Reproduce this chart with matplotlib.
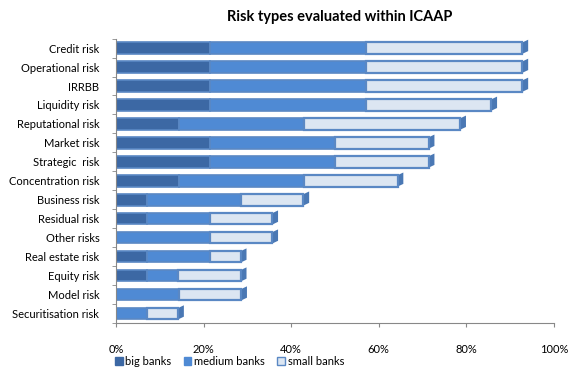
import matplotlib
matplotlib.use("Agg")
import matplotlib.pyplot as plt
from matplotlib.patches import Patch, Polygon
import numpy as np

categories = ["Credit risk", "Operational risk", "IRRBB", "Liquidity risk",
              "Reputational risk", "Market risk", "Strategic  risk",
              "Concentration risk", "Business risk", "Residual risk",
              "Other risks", "Real estate risk", "Equity risk", "Model risk",
              "Securitisation risk"]
big_banks = [21.4, 21.4, 21.4, 21.4, 14.3, 21.4, 21.4, 14.3, 7.1, 7.1,
             0.0, 7.1, 7.1, 0.0, 0.0]
medium_banks = [35.7, 35.7, 35.7, 35.7, 28.6, 28.6, 28.6, 28.6, 21.4, 14.3,
                21.4, 14.3, 7.1, 14.3, 7.1]
small_banks = [35.7, 35.7, 35.7, 28.6, 35.7, 21.4, 21.4, 21.4, 14.3, 14.3,
               14.3, 7.1, 14.3, 14.3, 7.1]
tick_labels = ["0%", "20%", "40%", "60%", "80%", "100%"]

plt.rcParams["font.family"] = ["Lato", "DejaVu Sans"]

fig = plt.figure(figsize=(5.75, 3.71), dpi=100)
ax = fig.add_axes([0.2017, 0.129, 0.7618, 0.767])

y = np.arange(len(categories))
big = np.array(big_banks)
med = np.array(medium_banks)
small = np.array(small_banks)
total = big + med + small
h = 0.6

c_big = "#3c68a4"
c_med = "#4f8ad4"
c_small = "#dce6f2"
edge = "#5a88c4"

# depth face behind each stacked bar for a raised look
dx, dy = 1.3, 0.14
for yi, t in zip(y, total):
    if t <= 0:
        continue
    poly = Polygon([(0, yi - h / 2), (t, yi - h / 2), (t + dx, yi - h / 2 - dy),
                    (t + dx, yi + h / 2 - dy), (t, yi + h / 2)],
                   closed=True, facecolor="#4a78b4", edgecolor="none", zorder=1)
    ax.add_patch(poly)

ax.barh(y, big, height=h, color=c_big, edgecolor=edge, linewidth=1.2, zorder=2)
ax.barh(y, med, left=big, height=h, color=c_med, edgecolor=edge, linewidth=1.2, zorder=2)
ax.barh(y, small, left=big + med, height=h, color=c_small, edgecolor=edge,
        linewidth=1.6, zorder=2)

ax.set_xlim(0, 100)
ax.set_ylim(len(categories) - 0.5, -0.5)
ax.set_yticks(y)
ax.set_yticklabels(categories, fontsize=8)
ax.set_xticks([0, 20, 40, 60, 80, 100])
ax.set_xticklabels(tick_labels, fontsize=8)
ax.tick_params(axis="y", length=3, color="#888888", pad=12)
ax.tick_params(axis="x", length=3, color="#888888", pad=12)
ax.set_yticks(np.arange(-0.5, len(categories), 1), minor=True)
ax.tick_params(axis="y", which="minor", length=3, color="#888888")
ax.tick_params(axis="y", which="major", length=0)

for s in ["top", "right"]:
    ax.spines[s].set_visible(False)
ax.spines["left"].set_color("#888888")
ax.spines["bottom"].set_color("#888888")

fig.text(0.59, 0.953, "Risk types evaluated within ICAAP", ha="center",
         va="center", fontsize=10.5, fontweight="bold")

handles = [Patch(facecolor=c_big, edgecolor=c_big, label="big banks"),
           Patch(facecolor=c_med, edgecolor=c_med, label="medium banks"),
           Patch(facecolor=c_small, edgecolor=edge, label="small banks")]
fig.legend(handles=handles, loc="center left", bbox_to_anchor=(0.19, 0.025),
           ncol=3, frameon=False, fontsize=8, handlelength=0.7, handleheight=0.7,
           handletextpad=0.25, columnspacing=1.1, borderpad=0)

fig.savefig("out.png", dpi=100)
